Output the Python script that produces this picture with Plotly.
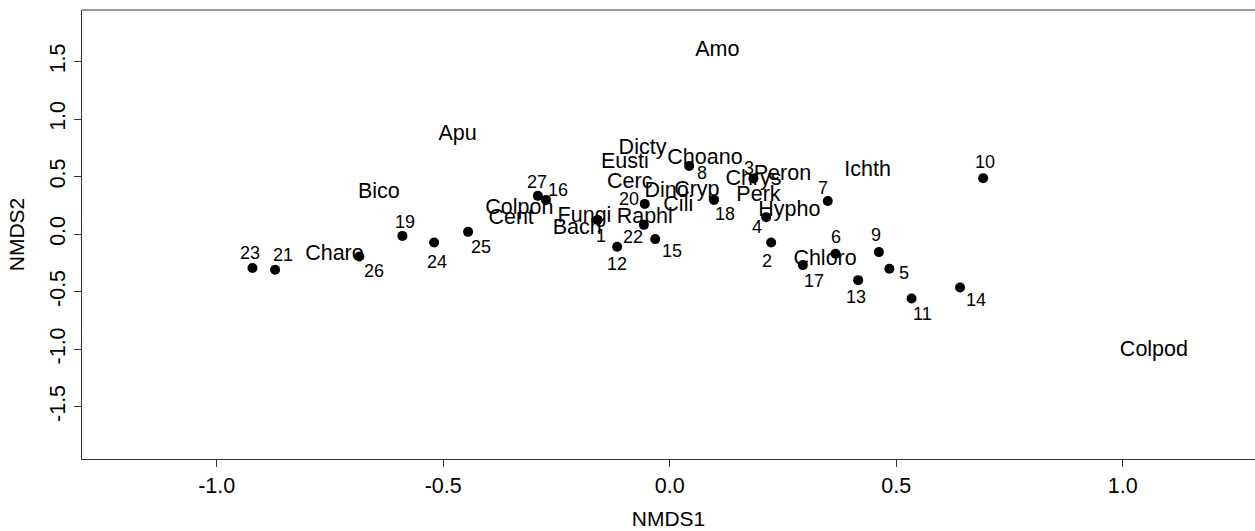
import plotly.graph_objects as go

# Site scores (NMDS ordination)
site_ids = [str(i) for i in range(1, 28)]
site_x = [-0.159, 0.224, 0.185, 0.213, 0.485, 0.366, 0.349, 0.043, 0.462, 0.692,
          0.534, -0.116, 0.416, 0.641, -0.032, -0.273, 0.294, 0.098, -0.590, -0.055,
          -0.871, -0.057, -0.921, -0.520, -0.445, -0.685, -0.291]
site_y = [0.124, -0.073, 0.485, 0.148, -0.301, -0.171, 0.289, 0.593, -0.156, 0.487,
          -0.560, -0.110, -0.400, -0.464, -0.043, 0.298, -0.269, 0.298, -0.015, 0.263,
          -0.310, 0.081, -0.295, -0.073, 0.020, -0.195, 0.333]

# Species scores
species = ["Amo", "Apu", "Bico", "Charo", "Colpoh", "Cent", "Fungi", "Bach", "Raphi",
           "Cerc", "Dino", "Cryp", "Cili", "Eusti", "Dicty", "Choano", "Chrys", "Peron",
           "Perk", "Hypho", "Ichth", "Chloro", "Colpod"]
species_x = [0.105, -0.468, -0.642, -0.740, -0.332, -0.350, -0.188, -0.204, -0.055,
             -0.088, -0.007, 0.060, 0.019, -0.099, -0.060, 0.078, 0.185, 0.249,
             0.196, 0.264, 0.437, 0.343, 1.069]
species_y = [1.595, 0.862, 0.365, -0.180, 0.226, 0.133, 0.153, 0.046, 0.148,
             0.448, 0.370, 0.376, 0.246, 0.622, 0.747, 0.660, 0.478, 0.521,
             0.333, 0.202, 0.553, -0.223, -1.011]

# Axis ticks
x_ticks = [-1.0, -0.5, 0.0, 0.5, 1.0]
x_tick_text = ["-1.0", "-0.5", "0.0", "0.5", "1.0"]
y_ticks = [-1.5, -1.0, -0.5, 0.0, 0.5, 1.0, 1.5]
y_tick_text = ["-1.5", "-1.0", "-0.5", "0.0", "0.5", "1.0", "1.5"]

# Pixel offsets of each site label relative to its point (dx right, dy down)
label_offsets = [(3, 16), (-4, 18), (-4, -10), (-9, 10), (15, 4), (1, -17), (-5, -13),
                 (13, 7), (-3, -17), (2, -16), (11, 15), (0, 17), (-2, 17), (16, 12),
                 (17, 12), (12, -10), (11, 16), (11, 14), (3, -14), (-16, -5),
                 (8, -15), (-11, 12), (-2, -15), (3, 19), (13, 15), (15, 14), (-1, -14)]

FONT = "Liberation Sans, Arial, sans-serif"

fig = go.Figure()

fig.add_trace(go.Scatter(
    x=site_x, y=site_y, mode="markers",
    marker=dict(color="black", size=10),
    hoverinfo="text", text=site_ids, showlegend=False,
))

fig.add_trace(go.Scatter(
    x=species_x, y=species_y, mode="text", text=species,
    textposition="middle center",
    textfont=dict(family=FONT, size=21.5, color="black"),
    showlegend=False, hoverinfo="text",
))

for sid, sx, sy, (dx, dy) in zip(site_ids, site_x, site_y, label_offsets):
    fig.add_annotation(x=sx, y=sy, text=sid, showarrow=False,
                       xshift=dx, yshift=-dy,
                       font=dict(family=FONT, size=18, color="black"))

axis_common = dict(
    showgrid=False, zeroline=False, showline=True, linecolor="#333333", linewidth=1,
    ticks="outside", ticklen=7, tickcolor="#333333", tickwidth=1,
    tickfont=dict(family=FONT, size=21.5, color="black"),
)

fig.update_xaxes(
    range=[-1.2973, 1.2921], tickvals=x_ticks, ticktext=x_tick_text,
    mirror=False, title=dict(text="NMDS1", font=dict(family=FONT, size=21, color="black"),
                             standoff=14),
    **axis_common,
)
fig.update_yaxes(
    range=[-1.955, 1.949], tickvals=y_ticks, ticktext=y_tick_text, tickangle=-90,
    mirror=False, title=dict(text="NMDS2", font=dict(family=FONT, size=21, color="black"),
                             standoff=16),
    **axis_common,
)

# top border of the plotting box
fig.add_shape(type="line", xref="paper", yref="paper", x0=0, x1=1, y0=1, y1=1,
              line=dict(color="#333333", width=1))

fig.update_layout(
    width=1255, height=531,
    margin=dict(l=82, r=0, t=10, b=72),
    plot_bgcolor="white", paper_bgcolor="white",
    font=dict(family=FONT, color="black"),
)

fig.write_html("out.html")
